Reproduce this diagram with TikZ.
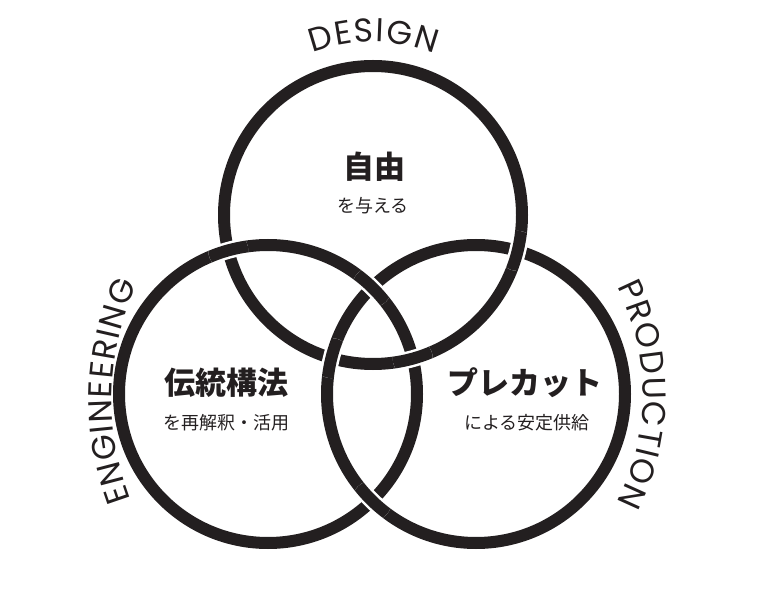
\documentclass[tikz,border=0pt]{standalone}
\usepackage{fontspec}
\newfontfamily\jp{Noto Sans CJK JP}
\newfontfamily\lat{Poppins}
\usetikzlibrary{decorations.text}
\definecolor{ink}{RGB}{35,31,32}
\begin{document}
\begin{tikzpicture}[x=1pt,y=1pt,
  ring/.style={draw=ink, line width=12pt},
  gapband/.style={draw=white, line width=17pt},
  title/.style={text=ink, inner sep=0pt, font=\jp\bfseries\fontsize{31}{31}\selectfont},
  sub/.style={text=ink, inner sep=0pt, font=\jp\fontsize{18}{18}\selectfont},
  arclabel/.style={decorate, decoration={text along path, text align=fit to path,
    text={|\lat\fontsize{33}{33}\selectfont\color{ink}|#1}}}]
\useasboundingbox (0,0) rectangle (761,590);
\coordinate (T) at (373,375);
\coordinate (L) at (268,196);
\coordinate (R) at (476,196);
\coordinate (EC) at (396,190);
\coordinate (PC) at (406,195);
% crossings
\coordinate (tlo) at (228.2,339.6);
\coordinate (tli) at (412.8,231.4);
\coordinate (tro) at (517.6,339.1);
\coordinate (tri) at (331.4,231.9);
\coordinate (lri) at (372,302.7);
\coordinate (lro) at (372,89.3);
\draw[ring] (T) circle[radius=149];
\draw[ring] (L) circle[radius=149];
\draw[ring] (R) circle[radius=149];
\foreach \p/\c in {tlo/L, tli/T, tro/T, tri/R, lri/L, lro/R} {
  \begin{scope}
    \clip (\p) circle[radius=20];
    \draw[gapband] (\c) circle[radius=149];
    \draw[ring] (\c) circle[radius=149];
  \end{scope}
}
% curved labels
\path[arclabel=DESIGN]
  ([shift={(110.5:173)}]T) arc[start angle=110.5, end angle=69, radius=173];
\path[arclabel=ENGINEERING]
  ([shift={(200.6:284)}]EC) arc[start angle=200.6, end angle=155.9, radius=284];
\path[arclabel=PRODUCTION]
  ([shift={(27.1:237)}]PC) arc[start angle=27.1, end angle=-27.1, radius=237];
% texts
\node[title] (jiyu) at (374,423) {自由};
\node[sub] (jiyusub) at (373,384) {を与える};
\node[title] (dento) at (226,207) {伝統構法};
\node[sub] (dentosub) at (226,167) {を再解釈・活用};
\node[title] (precut) at (525,207) {プレカット};
\node[sub] (precutsub) at (527,167) {による安定供給};
\end{tikzpicture}
\end{document}
